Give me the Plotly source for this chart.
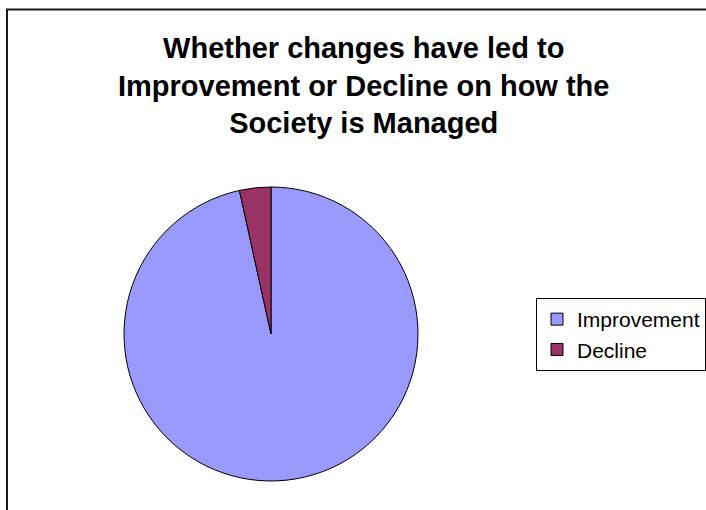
import plotly.graph_objects as go

# Survey responses: did the changes improve how the society is managed?
categories = ["Improvement", "Decline"]
responses = [28, 1]
slice_colors = ["#9999FF", "#993366"]
chart_title = "Whether changes have led to<br>Improvement or Decline on how the<br>Society is Managed"

W, H = 706, 510
FONT = "Liberation Sans, Arial, sans-serif"

fig = go.Figure(
    go.Pie(
        labels=categories,
        values=responses,
        sort=False,
        direction="clockwise",
        rotation=0,
        textinfo="none",
        hoverinfo="label+value+percent",
        marker=dict(colors=slice_colors, line=dict(color="#000000", width=1)),
        domain=dict(x=[122 / W, 420 / W], y=[1 - 481 / H, 1 - 187 / H]),
    )
)

fig.update_layout(
    width=W,
    height=H,
    margin=dict(l=0, r=0, t=0, b=0),
    paper_bgcolor="#FFFFFF",
    plot_bgcolor="#FFFFFF",
    font=dict(family=FONT, color="#000000"),
    showlegend=True,
    legend=dict(
        x=536 / W,
        xanchor="left",
        y=1 - 298 / H,
        yanchor="top",
        bordercolor="#000000",
        borderwidth=1,
        bgcolor="#FFFFFF",
        font=dict(size=21, family=FONT, color="#000000"),
        itemwidth=30,
        tracegroupgap=0,
    ),
    annotations=[
        dict(
            text="<b>" + chart_title + "</b>",
            xref="paper",
            yref="paper",
            x=363 / W,
            xanchor="center",
            y=1 - 30 / H,
            yanchor="top",
            showarrow=False,
            align="center",
            font=dict(size=29, family=FONT, color="#000000"),
        )
    ],
    shapes=[
        # chart-area frame, running off the right and bottom edges
        dict(
            type="rect",
            xref="paper",
            yref="paper",
            x0=7 / W,
            x1=1.05,
            y0=-0.05,
            y1=1 - 9.5 / H,
            line=dict(color="#1a1a1a", width=2),
            fillcolor="rgba(0,0,0,0)",
            layer="above",
        )
    ],
)

fig.write_html("out.html")
